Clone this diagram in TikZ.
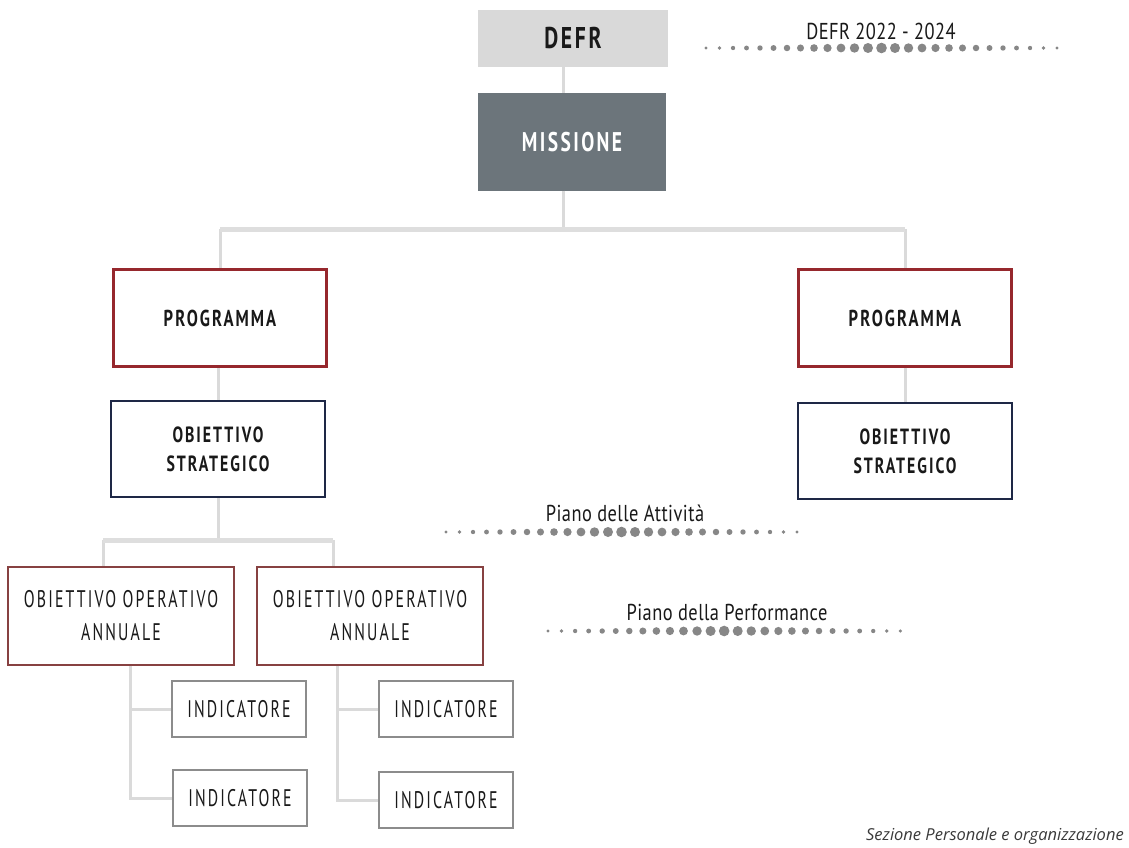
\documentclass[tikz,border=0pt]{standalone}
\usepackage{fontspec}
\setmainfont{PT Sans}
\newfontfamily\cf[FakeStretch=0.72,LetterSpace=9]{PT Sans}
\newfontfamily\cfr[FakeStretch=0.66,LetterSpace=9]{PT Sans}
\newfontfamily\cfn[FakeStretch=0.8,LetterSpace=2]{PT Sans}
\newfontfamily\osi{Open Sans}
\definecolor{defrfill}{RGB}{217,217,217}
\definecolor{missfill}{RGB}{108,117,123}
\definecolor{progred}{RGB}{150,40,45}
\definecolor{navy}{RGB}{30,40,70}
\definecolor{ooared}{RGB}{135,65,65}
\definecolor{indgray}{RGB}{140,140,140}
\definecolor{connc}{RGB}{218,218,218}
\definecolor{barc}{RGB}{222,222,222}
\definecolor{dotc}{RGB}{135,135,135}
\definecolor{txt}{RGB}{25,25,25}
\tikzset{
  basebox/.style={rectangle, inner sep=0pt, align=center, text=txt},
  defrbox/.style={basebox, fill=defrfill, minimum width=190pt, minimum height=57pt, font=\cf\bfseries\fontsize{30}{32}\selectfont},
  missbox/.style={basebox, fill=missfill, text=white, minimum width=188pt, minimum height=97pt, font=\cf\bfseries\fontsize{27}{29}\selectfont},
  progbox/.style={basebox, draw=progred, line width=2.5pt, minimum width=213pt, minimum height=97pt, font=\cf\bfseries\fontsize{23}{25}\selectfont},
  osbox/.style={basebox, draw=navy, line width=2.5pt, minimum width=214pt, minimum height=96pt, font=\cf\bfseries\fontsize{22}{29}\selectfont},
  ooabox/.style={basebox, draw=ooared, line width=1.5pt, minimum width=226pt, minimum height=98pt, font=\cfr\fontsize{24}{33}\selectfont},
  indbox/.style={basebox, draw=indgray, line width=2pt, minimum width=134pt, minimum height=56pt, font=\cfr\fontsize{24}{26}\selectfont},
  conn/.style={draw=connc, line width=3pt},
  hbar/.style={draw=barc, line width=5pt},
  plabel/.style={inner sep=0pt, text=txt, font=\cfn\fontsize{23}{25}\selectfont},
}
\newcommand{\dotrow}[3]{% x0, y, spacing
  \foreach \i in {0,...,26}{%
    \pgfmathsetmacro{\rr}{1.7+3.6*(1-abs(\i-13)/13)^1.1}%
    \fill[dotc] ({#1+\i*#3},#2) circle (\rr pt);
  }%
}
\begin{document}
\begin{tikzpicture}[x=1pt,y=-1pt]
\useasboundingbox (0,0) rectangle (1129,848);
\fill[white] (0,0) rectangle (1129,848);

% nodes
\node[defrbox] (defr) at (573,38.5) {DEFR};
\node[missbox] (miss) at (572,142) {MISSIONE};
\node[progbox] (progL) at (220,318) {PROGRAMMA};
\node[progbox] (progR) at (905,318) {PROGRAMMA};
\node[osbox] (osL) at (218,449) {OBIETTIVO\\STRATEGICO};
\node[osbox] (osR) at (905,451) {OBIETTIVO\\STRATEGICO};
\node[ooabox] (ooaL) at (121,616) {OBIETTIVO OPERATIVO\\ANNUALE};
\node[ooabox] (ooaR) at (370,616) {OBIETTIVO OPERATIVO\\ANNUALE};
\node[indbox] (i1) at (239,709) {INDICATORE};
\node[indbox] (i2) at (240,798) {INDICATORE};
\node[indbox] (i3) at (446,709) {INDICATORE};
\node[indbox] (i4) at (446,800) {INDICATORE};

% connectors
\coordinate (j1) at (563,229);
\coordinate (j2) at (218,540);
\coordinate (b1) at (103,540);
\coordinate (b2) at (333,540);
\coordinate (t1) at (130,0);
\coordinate (t2) at (337,0);
\draw[conn] (defr.south -| j1) -- (miss.north -| j1);
\draw[conn] (miss.south -| j1) -- (j1);
\draw[conn] (progL.north |- j1) -- (progL.north);
\draw[conn] (progR.north |- j1) -- (progR.north);
\draw[hbar] (progL.north |- j1) -- (progR.north |- j1);
\draw[conn] (progL.south -| osL.north) -- (osL.north);
\draw[conn] (progR.south) -- (osR.north);
\draw[conn] (osL.south) -- (j2);
\draw[conn] (b1) -- (b1 |- ooaL.north);
\draw[conn] (b2) -- (b2 |- ooaR.north);
\draw[hbar] (b1) -- (b2);
\draw[conn] (ooaL.south -| t1) |- (i2.west);
\draw[conn] (i1.west) -- (i1.west -| t1);
\draw[conn] (ooaR.south -| t2) |- (i4.west);
\draw[conn] (i3.west) -- (i3.west -| t2);

% dotted timelines
\node[plabel] (tdefr) at (881,31) {DEFR 2022 - 2024};
\dotrow{706}{48}{13.5}
\node[plabel] (tatt) at (625,513) {Piano delle Attività};
\dotrow{446}{532}{13.5}
\node[plabel] (tperf) at (727,612) {Piano della Performance};
\dotrow{548}{631}{13.55}

\node[anchor=east, inner sep=0pt, text=txt!85, font=\osi\itshape\fontsize{16.5}{18}\selectfont] (sez) at (1124,836) {Sezione Personale e organizzazione};
\end{tikzpicture}
\end{document}
